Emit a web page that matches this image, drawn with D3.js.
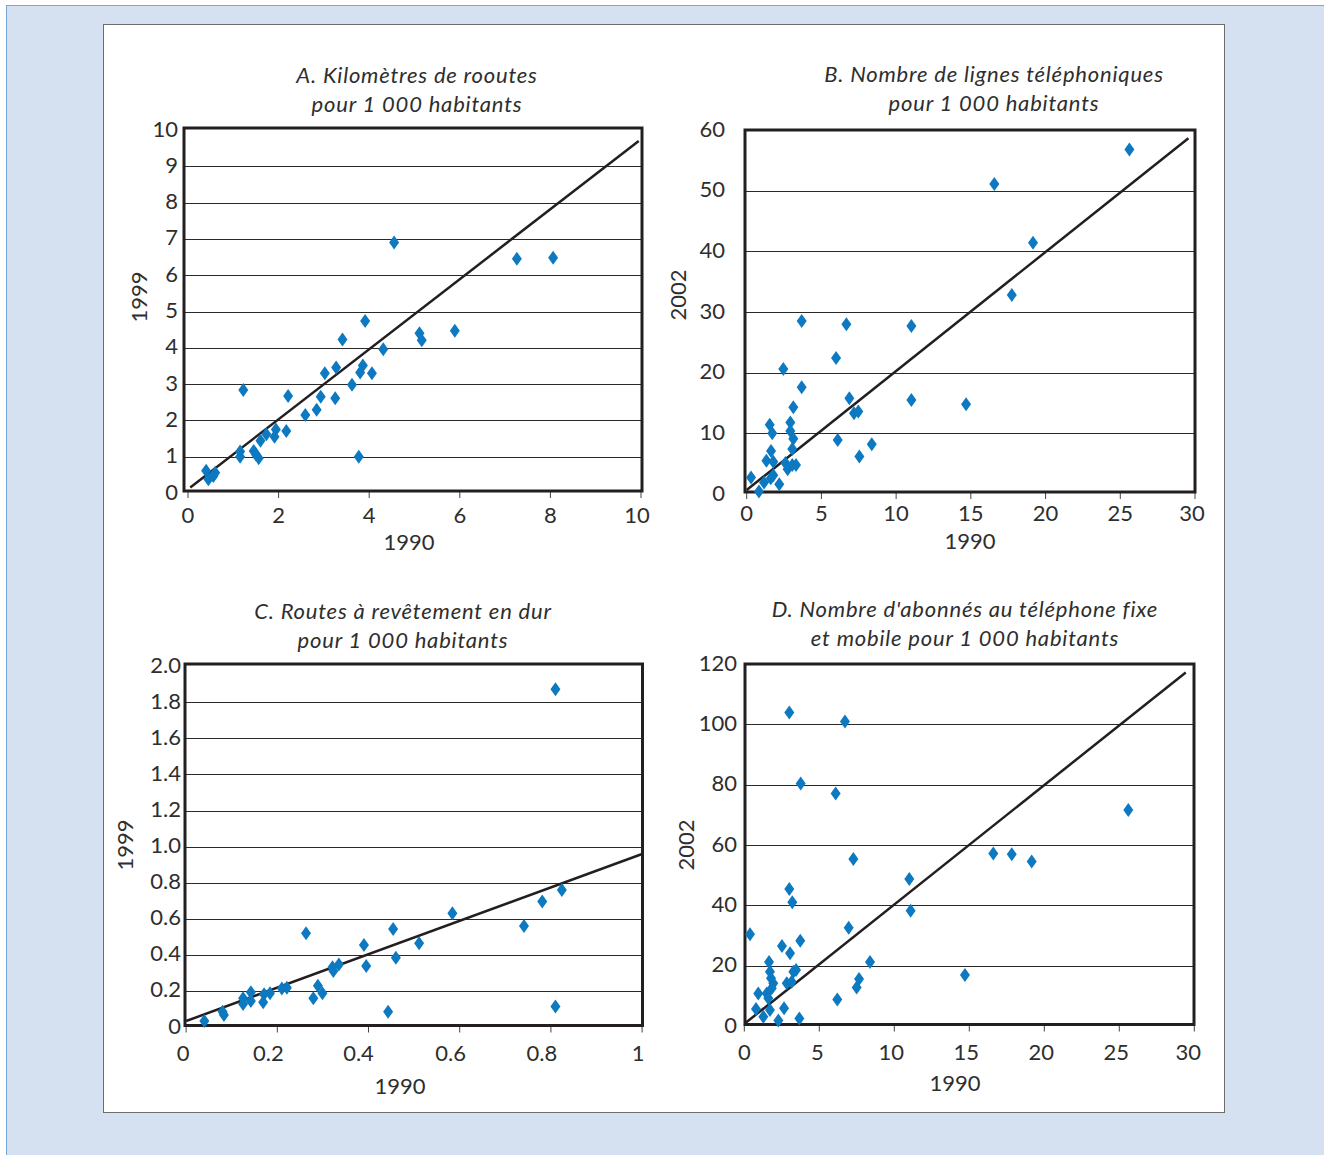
<!DOCTYPE html>
<html><head><meta charset="utf-8">
<script src="https://cdn.jsdelivr.net/npm/d3@7"></script>
<style>html,body{margin:0;padding:0;background:#fff;}svg{display:block;}</style>
</head><body>
<svg id="c" width="1324" height="1155"></svg>
<script>
// ---------- DATA ----------
const titleA = ["A. Kilomètres de rooutes", "pour 1 000 habitants"];
const titleB = ["B. Nombre de lignes téléphoniques", "pour 1 000 habitants"];
const titleC = ["C. Routes à revêtement en dur", "pour 1 000 habitants"];
const titleD = ["D. Nombre d'abonnés au téléphone fixe", "et mobile pour 1 000 habitants"];
const xLabel = "1990";
const yLabelA = "1999", yLabelB = "2002", yLabelC = "1999", yLabelD = "2002";

const xTicksA = [0,2,4,6,8,10];
const yTicksA = [0,1,2,3,4,5,6,7,8,9,10];
const xTicksB = [0,5,10,15,20,25,30];
const yTicksB = [0,10,20,30,40,50,60];
const xTicksC = [0,0.2,0.4,0.6,0.8,1];
const yTicksC = [0,0.2,0.4,0.6,0.8,1.0,1.2,1.4,1.6,1.8,2.0];
const xTicksD = [0,5,10,15,20,25,30];
const yTicksD = [0,20,40,60,80,100,120];

const xTickLabelsC = ["0","0.2","0.4","0.6","0.8","1"];
const yTickLabelsC = ["0","0.2","0.4","0.6","0.8","1.0","1.2","1.4","1.6","1.8","2.0"];

const pointsA = [[0.40,0.61],[0.45,0.38],[0.56,0.47],[0.60,0.56],[1.15,1.14],[1.15,1.00],[1.22,2.84],
 [1.45,1.16],[1.50,1.06],[1.56,0.96],[1.60,1.44],[1.73,1.62],[1.91,1.55],[1.94,1.75],[2.17,1.71],[2.21,2.67],
 [2.59,2.15],[2.84,2.29],[2.93,2.65],[3.02,3.30],[3.25,2.61],[3.27,3.46],[3.41,4.23],[3.62,2.98],[3.77,1.00],
 [3.80,3.32],[3.86,3.51],[3.91,4.74],[4.06,3.30],[4.31,3.96],[4.55,6.90],[5.11,4.40],[5.16,4.21],[5.89,4.47],
 [7.26,6.45],[8.06,6.48]];
const lineA = [[0.05,0.15],[9.95,9.70]];

const pointsB = [[25.61,56.8],[16.57,51.1],[19.16,41.4],[17.74,32.8],[3.68,28.5],[6.67,28.0],[11.02,27.7],
 [5.98,22.4],[2.45,20.6],[3.68,17.6],[6.87,15.8],[11.02,15.5],[14.68,14.8],[7.18,13.3],[7.47,13.6],[3.12,14.3],
 [1.54,11.4],[1.71,10.0],[2.92,11.8],[2.92,10.4],[3.12,9.1],[6.09,8.9],[8.37,8.2],[7.54,6.2],[3.05,7.4],
 [1.63,7.1],[1.32,5.5],[1.78,5.3],[2.59,5.1],[2.74,4.1],[3.05,4.8],[3.30,4.8],[1.61,2.6],[1.78,3.1],
 [1.16,1.9],[2.18,1.6],[0.29,2.7],[0.82,0.4]];
const lineB = [[0,0.66],[29.56,58.65]];

const pointsC = [[0.810,1.872],[0.824,0.759],[0.781,0.695],[0.741,0.560],[0.810,0.113],[0.584,0.630],
 [0.511,0.464],[0.454,0.543],[0.460,0.384],[0.443,0.085],[0.390,0.455],[0.395,0.338],[0.263,0.519],
 [0.335,0.347],[0.321,0.331],[0.323,0.310],[0.289,0.229],[0.299,0.187],[0.279,0.159],[0.221,0.218],
 [0.210,0.214],[0.184,0.187],[0.171,0.181],[0.169,0.137],[0.142,0.192],[0.142,0.144],[0.125,0.159],
 [0.125,0.127],[0.080,0.085],[0.083,0.067],[0.040,0.033]];
const lineC = [[0,0.033],[1,0.959]];

const pointsD = [[3.00,103.9],[6.71,100.9],[3.76,80.4],[6.09,77.1],[25.6,71.6],[16.6,57.2],[17.83,56.9],
 [19.16,54.5],[7.27,55.4],[11.0,48.7],[11.09,38.2],[3.00,45.4],[3.20,41.0],[6.96,32.6],[0.38,30.4],
 [3.73,28.3],[2.51,26.5],[3.05,24.1],[8.38,21.2],[1.65,21.2],[3.45,18.6],[3.27,18.0],[1.71,18.0],
 [1.78,15.8],[1.93,14.2],[1.83,12.5],[2.83,14.2],[3.16,14.7],[7.65,15.6],[7.49,12.8],[14.71,16.9],
 [0.93,10.8],[1.49,10.8],[1.60,9.2],[6.20,8.8],[0.78,5.6],[1.71,5.3],[2.65,5.9],[1.27,3.1],[2.27,1.8],[3.67,2.5]];
const lineD = [[0.05,0.9],[29.43,117.2]];

// ---------- LAYOUT ----------
const svg = d3.select("#c");
const FONT = "Lato, 'Open Sans', sans-serif";
const INK = "#231f20";
const TXT = "#2e2e2e";
const BLUE = "#0c79c1";

svg.append("rect").attr("x",0).attr("y",0).attr("width",1324).attr("height",1155).attr("fill","#fff");
svg.append("rect").attr("x",6.5).attr("y",5.5).attr("width",1330).attr("height",1160)
  .attr("fill","#d5e1f1").attr("stroke","#79a5d8").attr("stroke-width",1);
svg.append("rect").attr("x",103.5).attr("y",24.5).attr("width",1121).attr("height",1088)
  .attr("fill","#fff").attr("stroke","#6d6d6d").attr("stroke-width",1);

const panels = [
  {title:titleA, yl:yLabelA, pts:pointsA, line:lineA, xt:xTicksA, yt:yTicksA,
   xdom:[0,10], ydom:[0,10], xr:[188,641], yr:[493,130], box:[184,642,128,491],
   tcx:417, ty:77, ylx:141, yly:297, xlx:409, xly:544, xTickY:517, yTickX:178, xdx:[0,0,0,0,0,-4]},
  {title:titleB, yl:yLabelB, pts:pointsB, line:lineB, xt:xTicksB, yt:yTicksB,
   xdom:[0,30], ydom:[0,60], xr:[746.7,1195], yr:[494,130], box:[745,1195,130,492],
   tcx:994, ty:76, ylx:680, yly:295, xlx:970, xly:543, xTickY:515, yTickX:725, xdx:[0,0,0,0,0,0,-3]},
  {title:titleC, yl:yLabelC, pts:pointsC, line:lineC, xt:xTicksC, yt:yTicksC, xtl:xTickLabelsC, ytl:yTickLabelsC,
   xdom:[0,1], ydom:[0,2], xr:[186.1,642.1], yr:[1027,666.2], box:[185,642.5,664,1025.5],
   tcx:403, ty:613, ylx:127, yly:845, xlx:400, xly:1088, xTickY:1055, yTickX:181, xdx:[-3,-9,-10,-9,-9,-4]},
  {title:titleD, yl:yLabelD, pts:pointsD, line:lineD, xt:xTicksD, yt:yTicksD,
   xdom:[0,30], ydom:[0,120], xr:[744.3,1194.3], yr:[1026,664], box:[745,1194,664,1024.5],
   tcx:965, ty:611, ylx:688, yly:845, xlx:955, xly:1085, xTickY:1054, yTickX:737, xdx:[0,-2,-3,-3,-3,-3,-6]}
];

const diamond = "M0,-7L5,0L0,7L-5,0Z";

panels.forEach(p => {
  const g = svg.append("g");
  const x = d3.scaleLinear().domain(p.xdom).range(p.xr);
  const y = d3.scaleLinear().domain(p.ydom).range(p.yr);
  const [bl,br,bt,bb] = p.box;

  // titles
  p.title.forEach((t,i) => g.append("text").attr("x",p.tcx).attr("y",p.ty+i*29)
    .attr("text-anchor","middle").attr("dominant-baseline","middle")
    .attr("font-family",FONT).attr("font-style","italic").attr("font-size",22)
    .attr("letter-spacing","0.8px").attr("fill",TXT).text(t));

  // gridlines
  p.yt.forEach(v => {
    if (v === p.ydom[0] || v === p.ydom[1]) return;
    g.append("line").attr("x1",bl).attr("x2",br).attr("y1",Math.round(y(v))+0.5).attr("y2",Math.round(y(v))+0.5)
      .attr("stroke","#2a2a2a").attr("stroke-width",1.1);
  });

  // x tick marks
  p.xt.forEach(v => {
    g.append("line").attr("x1",x(v)).attr("x2",x(v)).attr("y1",bb).attr("y2",bb+7)
      .attr("stroke","#444").attr("stroke-width",1);
  });

  // box
  g.append("rect").attr("x",bl).attr("y",bt).attr("width",br-bl).attr("height",bb-bt)
    .attr("fill","none").attr("stroke",INK).attr("stroke-width",3);

  // y tick labels
  p.yt.forEach((v,i) => g.append("text").attr("x",p.yTickX).attr("y",y(v)+1)
    .attr("text-anchor","end").attr("dominant-baseline","middle")
    .attr("font-family",FONT).attr("font-size",22).attr("fill",TXT)
    .text(p.ytl ? p.ytl[i] : String(v)));
  // x tick labels
  p.xt.forEach((v,i) => g.append("text").attr("x",x(v)+(p.xdx[i]||0)).attr("y",p.xTickY)
    .attr("text-anchor","middle").attr("dominant-baseline","middle")
    .attr("font-family",FONT).attr("font-size",22).attr("fill",TXT)
    .text(p.xtl ? p.xtl[i] : String(v)));

  // axis labels
  g.append("text").attr("x",p.xlx).attr("y",p.xly).attr("text-anchor","middle").attr("dominant-baseline","middle")
    .attr("font-family",FONT).attr("font-size",22).attr("fill",TXT).text(xLabel);
  g.append("text").attr("transform",`translate(${p.ylx},${p.yly}) rotate(-90)`)
    .attr("text-anchor","middle").attr("dominant-baseline","middle")
    .attr("font-family",FONT).attr("font-size",22).attr("fill",TXT).text(p.yl);

  // regression line
  g.append("path").attr("d", d3.line().x(d=>x(d[0])).y(d=>y(d[1]))(p.line))
    .attr("stroke",INK).attr("stroke-width",2.5).attr("fill","none");

  // points
  g.selectAll("path.pt").data(p.pts).join("path").attr("class","pt")
    .attr("d",diamond).attr("transform",d=>`translate(${x(d[0])},${y(d[1])})`).attr("fill",BLUE);
});
</script>
</body></html>
